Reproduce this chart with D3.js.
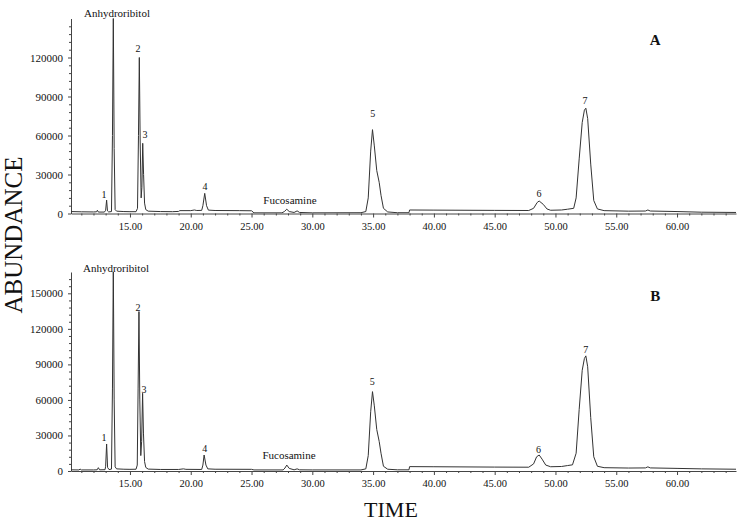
<!DOCTYPE html>
<html><head><meta charset="utf-8">
<script src="https://cdn.jsdelivr.net/npm/d3@7"></script>
<style>body{margin:0;background:#fff}svg{display:block}text{font-family:"Liberation Serif","Times New Roman",serif;fill:#111}</style>
</head><body><div id="chart"></div>
<script>
// ---- data ----
const timeDomain = [10.15, 64.85];
const xTicks = [15, 20, 25, 30, 35, 40, 45, 50, 55, 60];
const yTicksA = [0, 30000, 60000, 90000, 120000];
const yTicksB = [0, 30000, 60000, 90000, 120000, 150000];
const yMaxA = 150000;
const yMaxB = 168000;

const traceA = [[10.15,1500],[11.0,1300],[12.0,1200],[12.25,1300],[12.32,2500],[12.4,1100],[12.9,1100],[13.0,2500],[13.08,10300],[13.15,2000],[13.25,1200],[13.48,1500],[13.56,60000],[13.63,152000],[13.70,50000],[13.78,3000],[13.9,1800],[14.5,1500],[15.0,1400],[15.5,1400],[15.62,4000],[15.70,60000],[15.77,120000],[15.84,55000],[15.92,12000],[15.98,20000],[16.05,54000],[16.12,30000],[16.2,8000],[16.3,3000],[16.5,1800],[17.5,1500],[18.5,1400],[19.0,1600],[19.1,2200],[20.0,2200],[20.3,2700],[20.5,2300],[20.9,2400],[21.0,6000],[21.15,15500],[21.3,6000],[21.45,2600],[22,2300],[24,2200],[25.0,2100],[25.2,500],[27.5,500],[27.7,1500],[27.9,3300],[28.1,1500],[28.5,800],[28.75,2000],[28.95,800],[30,500],[34.0,600],[34.4,1500],[34.6,12000],[34.8,48000],[34.95,64500],[35.1,52000],[35.3,33000],[35.5,24000],[35.65,14000],[35.85,4000],[36.2,1200],[37,600],[37.95,600],[38.0,2700],[40,2600],[45,2400],[47.8,2300],[48.2,4000],[48.5,8500],[48.66,9600],[49.0,7000],[49.3,3500],[49.6,2500],[50.5,2700],[51.0,3300],[51.5,4000],[51.7,12000],[51.95,42000],[52.2,70000],[52.38,79500],[52.5,81000],[52.65,73000],[52.9,38000],[53.15,10000],[53.45,3500],[54.0,2200],[56,1800],[57.4,1900],[57.6,2700],[57.8,1900],[60,1500],[62,1000],[64.85,800]];

const traceB = [[10.15,1000],[10.8,900],[10.9,1600],[11.0,900],[12.0,900],[12.3,1000],[12.4,2800],[12.5,1000],[12.95,1100],[13.0,4000],[13.08,22800],[13.16,3000],[13.28,1200],[13.48,1600],[13.56,70000],[13.63,172000],[13.70,60000],[13.78,3500],[13.9,1800],[14.5,1500],[15.0,1400],[15.5,1500],[15.6,5000],[15.67,70000],[15.74,134600],[15.81,60000],[15.89,13000],[15.96,25000],[16.04,65600],[16.11,32000],[16.2,8000],[16.3,3000],[16.5,1600],[17.5,1300],[19.0,1300],[19.4,1800],[19.6,1400],[20.9,1300],[21.0,5000],[21.1,13500],[21.25,5000],[21.4,1800],[22,1500],[25.0,1400],[25.2,900],[27.6,900],[27.75,2500],[27.9,5000],[28.1,2200],[28.5,1000],[28.75,1800],[28.95,1000],[30,900],[34.0,900],[34.4,1800],[34.6,13000],[34.8,50000],[34.95,67000],[35.1,55000],[35.3,35000],[35.5,25000],[35.65,15000],[35.85,4000],[36.2,1500],[37,1000],[37.95,1000],[38.0,3700],[40,3600],[45,3300],[47.8,3200],[48.2,6000],[48.45,12000],[48.66,13500],[48.9,10000],[49.2,5000],[49.6,3600],[50.5,3800],[51.0,4600],[51.4,5200],[51.7,15000],[51.95,52000],[52.2,85000],[52.38,95000],[52.5,97200],[52.65,88000],[52.9,45000],[53.15,12000],[53.45,4000],[54.0,2800],[56,2500],[57.4,2600],[57.6,3500],[57.8,2600],[60,2200],[62,1800],[64.85,1500]];

const labelsA = [
  {text:"Anhydroribitol", t:13.93, v:151150},
  {text:"1", t:12.86, v:11900},
  {text:"2", t:15.66, v:124200},
  {text:"3", t:16.23, v:57700},
  {text:"4", t:21.17, v:18100},
  {text:"Fucosamine", t:28.16, v:7300},
  {text:"5", t:34.98, v:74200},
  {text:"6", t:48.64, v:12700},
  {text:"7", t:52.42, v:84200}
];
const labelsB = [
  {text:"Anhydroribitol", t:13.85, v:167700},
  {text:"1", t:12.86, v:25350},
  {text:"2", t:15.66, v:135450},
  {text:"3", t:16.16, v:66170},
  {text:"4", t:21.15, v:15800},
  {text:"Fucosamine", t:28.08, v:10100},
  {text:"5", t:34.92, v:72700},
  {text:"6", t:48.6, v:15200},
  {text:"7", t:52.5, v:99700}
];
const panelLetterA = {text:"A", t:58.2, v:129600};
const panelLetterB = {text:"B", t:58.2, v:143700};

// ---- drawing ----
const W = 748, H = 526;
const svg = d3.select("#chart").append("svg").attr("width", W).attr("height", H);

const x = d3.scaleLinear().domain(timeDomain).range([71, 736]);

function panel(trace, yMax, yTicks, labels, letter, y0, yTop) {
  const y = d3.scaleLinear().domain([0, yMax]).range([y0, yTop]);
  const g = svg.append("g");
  const cid = "clip" + Math.round(y0);
  svg.append("clipPath").attr("id", cid).append("rect")
    .attr("x", 71).attr("y", yTop).attr("width", 736 - 71).attr("height", y0 - yTop);

  const xa = g.append("g").attr("transform", `translate(0,${y0})`)
    .call(d3.axisBottom(x).tickValues(xTicks).tickFormat(d3.format(".2f")).tickSize(4).tickSizeOuter(0));
  const minorX = d3.range(11, 65, 1).filter(v => v % 5 !== 0);
  g.append("g").attr("transform", `translate(0,${y0})`)
    .call(d3.axisBottom(x).tickValues(minorX).tickFormat("").tickSize(2).tickSizeOuter(0))
    .call(s => s.select(".domain").remove());
  const ya = g.append("g").attr("transform", `translate(71,0)`)
    .call(d3.axisLeft(y).tickValues(yTicks).tickFormat(d3.format("d")).tickSize(3).tickSizeOuter(0));
  const minorY = d3.range(6000, yMax, 6000).filter(v => v % 30000 !== 0);
  g.append("g").attr("transform", `translate(71,0)`)
    .call(d3.axisLeft(y).tickValues(minorY).tickFormat("").tickSize(2).tickSizeOuter(0))
    .call(s => s.select(".domain").remove());

  g.selectAll(".domain").attr("stroke", "#444");
  g.selectAll(".tick line").attr("stroke", "#444");
  xa.selectAll("text").attr("font-size", 10.5).attr("font-family", "Liberation Serif").attr("dy", "0.9em").attr("fill", "#111");
  ya.selectAll("text").attr("font-size", 11).attr("font-family", "Liberation Serif").attr("dx", "-2").attr("fill", "#111");

  const line = d3.line().x(d => x(d[0])).y(d => y(d[1]));
  g.append("path").datum(trace).attr("d", line)
    .attr("fill", "none").attr("stroke", "#333").attr("stroke-width", 1)
    .attr("clip-path", `url(#${cid})`);

  g.selectAll(".lbl").data(labels).enter().append("text")
    .attr("x", d => x(d.t)).attr("y", d => y(d.v))
    .attr("text-anchor", "middle")
    .attr("font-size", d => d.text.length > 1 ? 11 : 10)
    .text(d => d.text);

  g.append("text").attr("x", x(letter.t)).attr("y", y(letter.v))
    .attr("text-anchor", "middle").attr("font-size", 15).attr("font-weight", "bold")
    .text(letter.text);
}

panel(traceA, yMaxA, yTicksA, labelsA, panelLetterA, 213.5, 18.5);
panel(traceB, yMaxB, yTicksB, labelsB, panelLetterB, 471, 272);

svg.append("text").attr("transform", "translate(22,235) rotate(-90)")
  .attr("text-anchor", "middle").attr("font-size", 25).text("ABUNDANCE");
svg.append("text").attr("x", 391).attr("y", 517)
  .attr("text-anchor", "middle").attr("font-size", 22).text("TIME");
</script></body></html>
